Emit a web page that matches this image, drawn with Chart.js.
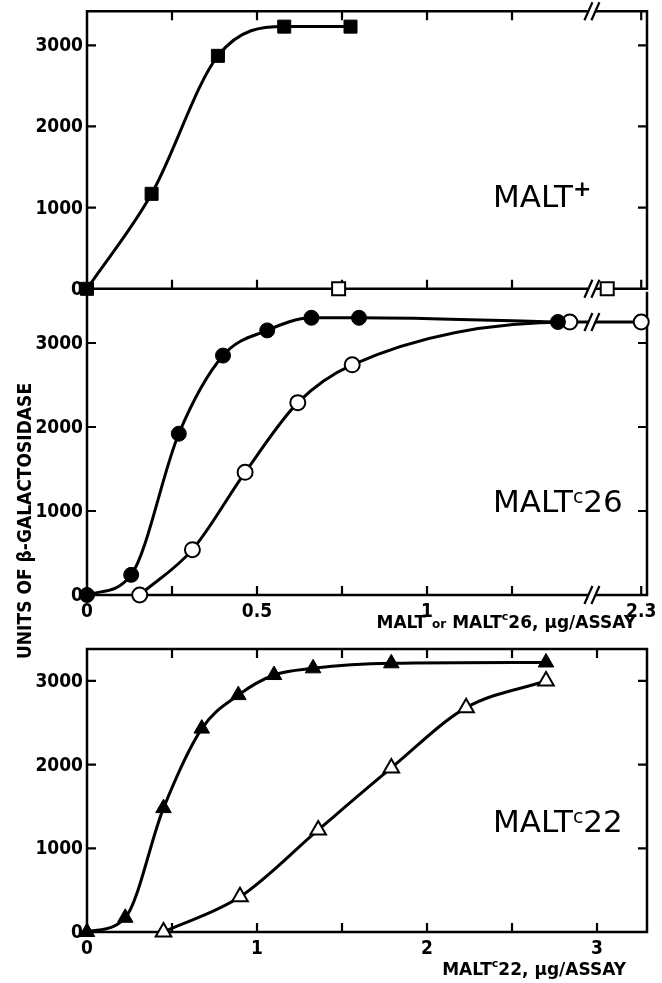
<!DOCTYPE html>
<html>
<head>
<meta charset="utf-8">
<script src="https://cdn.jsdelivr.net/npm/chart.js@4/dist/chart.umd.min.js"></script>
<style>
  html, body { margin: 0; padding: 0; background: #fff; }
  #wrap { position: relative; width: 662px; height: 983px; overflow: hidden; }
  #wrap canvas { position: absolute; left: 0; }
</style>
</head>
<body>
<div id="wrap">
  <canvas id="malt"></canvas>
  <canvas id="c26"></canvas>
  <canvas id="c22"></canvas>
</div>
<script>
// MALT+ panel (top)
const maltFilledX = [0, 0.19, 0.385, 0.58, 0.775];
const maltFilledY = [0, 1170, 2870, 3230, 3230];
const maltOpenX = [0.74, 2.2];
const maltOpenY = [0, 0];

// MALTc26 panel (middle)
const c26FilledX = [0, 0.13, 0.27, 0.40, 0.53, 0.66, 0.80, 1.385];
const c26FilledY = [0, 240, 1920, 2850, 3150, 3300, 3300, 3250];
const c26OpenX = [0.155, 0.31, 0.465, 0.62, 0.78, 1.42, 2.3];
const c26OpenY = [0, 540, 1460, 2290, 2740, 3250, 3250];

// MALTc22 panel (bottom)
const c22FilledX = [0, 0.225, 0.45, 0.675, 0.89, 1.1, 1.33, 1.79, 2.7];
const c22FilledY = [0, 170, 1480, 2430, 2830, 3070, 3150, 3210, 3220];
const c22OpenX = [0.45, 0.9, 1.36, 1.79, 2.23, 2.7];
const c22OpenY = [0, 420, 1220, 1960, 2680, 3000];

// ticks and labels
const yTicks = [0, 1000, 2000, 3000];
const doseTicks = [0.25, 0.5, 0.75, 1, 1.25, 2.3];
const doseLabels = [0, 0.5, 1, 2.3];
const c22Ticks = [0.5, 1, 1.5, 2, 2.5, 3];
const c22Labels = [0, 1, 2, 3];

// broken x axis of the top two panels: 2.3 sits right after the break
const BREAK_AT = 1.485;
function doseAxis(x) { return x >= 2 ? x - 0.67 : x; }
function plainAxis(x) { return x; }

const TICK = 9;
const NUM_FONT = 'bold 19px "DejaVu Sans Condensed", "DejaVu Sans"';
const BIG = '31px "DejaVu Sans"';
const TITLE = 'bold 17px "DejaVu Sans"';

function points(xs, ys, map) {
    return xs.map((x, i) => ({ x: map(x), y: ys[i] }));
}

function series(data, style, radius, filled, line) {
    return {
        data: data,
        showLine: line,
        borderColor: '#000',
        borderWidth: 3,
        cubicInterpolationMode: 'monotone',
        pointStyle: style,
        pointRadius: radius,
        pointHoverRadius: radius,
        pointBackgroundColor: filled ? '#000' : '#fff',
        pointBorderColor: '#000',
        pointBorderWidth: filled ? 1 : 2,
        clip: false
    };
}

// draws a row of text pieces (text, font, y offset), left or right aligned
function drawRuns(ctx, runs, x, y, align) {
    let w = 0;
    runs.forEach(r => { ctx.font = r[1]; w += ctx.measureText(r[0]).width; });
    let cx = align === 'right' ? x - w : x;
    ctx.textAlign = 'left';
    ctx.textBaseline = 'alphabetic';
    runs.forEach(r => {
        ctx.font = r[1];
        ctx.fillText(r[0], cx, y + (r[2] || 0));
        cx += ctx.measureText(r[0]).width;
    });
}

function breakMark(ctx, px, py) {
    ctx.save();
    ctx.fillStyle = '#fff';
    ctx.fillRect(px - 4, py - 3, 8, 6);
    ctx.strokeStyle = '#000';
    ctx.lineWidth = 2.2;
    ctx.beginPath();
    [-3.5, 3.5].forEach(dx => {
        ctx.moveTo(px + dx - 4, py + 9);
        ctx.lineTo(px + dx + 4, py - 9);
    });
    ctx.stroke();
    ctx.restore();
}

// frame, inward ticks, labels and break marks for one panel
function makeFrame(cfg) {
    return {
        id: 'frame',
        beforeDatasetsDraw(chart) {
            const { ctx, chartArea: a, scales: { x, y } } = chart;
            ctx.save();
            ctx.strokeStyle = '#000';
            ctx.lineWidth = 2.5;
            ctx.lineCap = 'square';
            ctx.beginPath();
            ctx.moveTo(a.left, a.top);
            ctx.lineTo(a.left, a.bottom);
            ctx.lineTo(a.right, a.bottom);
            ctx.lineTo(a.right, a.top);
            if (cfg.topLine) ctx.lineTo(a.left, a.top);
            ctx.stroke();

            ctx.lineWidth = 2.2;
            ctx.lineCap = 'butt';
            ctx.beginPath();
            yTicks.forEach(v => {
                if (v === 0) return;
                const py = y.getPixelForValue(v);
                ctx.moveTo(a.left, py); ctx.lineTo(a.left + TICK, py);
                ctx.moveTo(a.right, py); ctx.lineTo(a.right - TICK, py);
            });
            (cfg.topTicks || []).forEach(v => {
                const px = x.getPixelForValue(cfg.map(v));
                ctx.moveTo(px, a.top); ctx.lineTo(px, a.top + TICK);
            });
            (cfg.bottomTicks || []).forEach(v => {
                const px = x.getPixelForValue(cfg.map(v));
                ctx.moveTo(px, a.bottom); ctx.lineTo(px, a.bottom - TICK);
            });
            ctx.stroke();
            ctx.restore();
        },
        afterDatasetsDraw(chart) {
            const { ctx, chartArea: a, scales: { x, y } } = chart;
            const bx = x.getPixelForValue(BREAK_AT);
            (cfg.breaks || []).forEach(v => breakMark(ctx, bx, y.getPixelForValue(v)));
            if (cfg.breakTop) breakMark(ctx, bx, a.top);

            ctx.save();
            ctx.fillStyle = '#000';
            // y tick labels
            ctx.font = NUM_FONT;
            ctx.textAlign = 'right';
            ctx.textBaseline = 'middle';
            yTicks.forEach(v => ctx.fillText(String(v), a.left - 4, y.getPixelForValue(v) + 1));
            // x tick labels
            ctx.textAlign = 'center';
            ctx.textBaseline = 'top';
            (cfg.xLabels || []).forEach(v => ctx.fillText(String(v), x.getPixelForValue(cfg.map(v)), a.bottom + 8));
            // panel name
            drawRuns(ctx, cfg.name, a.left + 406, a.bottom - cfg.nameLift);
            // x axis title
            if (cfg.xTitle) drawRuns(ctx, cfg.xTitle, a.right - cfg.xTitleRight, a.bottom + cfg.xTitleDrop, 'right');
            // shared y axis title
            if (cfg.yTitle) {
                ctx.translate(26, a.bottom - 74);
                ctx.rotate(-Math.PI / 2);
                ctx.font = 'bold 19px "DejaVu Sans Condensed", "DejaVu Sans"';
                ctx.textAlign = 'center';
                ctx.textBaseline = 'middle';
                ctx.fillText(cfg.yTitle, 0, 0);
            }
            ctx.restore();
        }
    };
}

function panel(id, top, height, pad, xMax, yMax, datasets, cfg) {
    const canvas = document.getElementById(id);
    canvas.width = 662;
    canvas.height = height;
    canvas.style.top = top + 'px';
    return new Chart(canvas.getContext('2d'), {
        type: 'line',
        data: { datasets: datasets },
        options: {
            responsive: false,
            animation: false,
            devicePixelRatio: 1,
            layout: { padding: { left: 87, right: 15, top: pad[0], bottom: pad[1] } },
            plugins: { legend: { display: false }, tooltip: { enabled: false } },
            scales: {
                x: { type: 'linear', min: 0, max: xMax, display: false },
                y: { type: 'linear', min: 0, max: yMax, display: false }
            }
        },
        plugins: [makeFrame(cfg)]
    });
}

document.addEventListener('DOMContentLoaded', function() {
    // top: MALT+
    panel('malt', 0, 300, [7, 7], 1.647, 3420, [
        series(points(maltFilledX, maltFilledY, doseAxis), 'rect', 9.2, true, true),
        series(points(maltOpenX, maltOpenY, doseAxis), 'rect', 9.2, false, false)
    ], {
        map: doseAxis, topLine: true, topTicks: doseTicks, bottomTicks: doseTicks,
        breaks: [0], breakTop: true, nameLift: 82,
        name: [['MALT', BIG], ['+', 'bold 22px "DejaVu Sans"', -11]]
    });

    // middle: MALTc26
    panel('c26', 280, 400, [13, 85], 1.647, 3595, [
        series(points(c26FilledX, c26FilledY, doseAxis), 'circle', 7.5, true, true),
        series(points(c26OpenX, c26OpenY, doseAxis), 'circle', 7.5, false, true)
    ], {
        map: doseAxis, topLine: false, bottomTicks: doseTicks, xLabels: doseLabels,
        breaks: [0, c26OpenY[c26OpenY.length - 1]], nameLift: 83,
        name: [['MALT', BIG], ['c', '19px "DejaVu Sans"', -9], ['26', BIG]],
        xTitle: [['MALT', TITLE], [' ', TITLE], ['or', 'bold 12px "DejaVu Sans"'], [' ', TITLE],
                 ['MALT', TITLE], ['c', 'bold 11px "DejaVu Sans"', -8], ['26, μg/ASSAY', TITLE]],
        xTitleRight: 11, xTitleDrop: 33,
        yTitle: 'UNITS OF β-GALACTOSIDASE'
    });

    // bottom: MALTc22
    panel('c22', 630, 353, [19, 51], 3.294, 3381, [
        series(points(c22FilledX, c22FilledY, plainAxis), 'triangle', 9, true, true),
        series(points(c22OpenX, c22OpenY, plainAxis), 'triangle', 9, false, true)
    ], {
        map: plainAxis, topLine: true, topTicks: c22Ticks, bottomTicks: c22Ticks, xLabels: c22Labels,
        nameLift: 100,
        name: [['MALT', BIG], ['c', '19px "DejaVu Sans"', -9], ['22', BIG]],
        xTitle: [['MALT', TITLE], ['c', 'bold 11px "DejaVu Sans"', -8], ['22, μg/ASSAY', TITLE]],
        xTitleRight: 21, xTitleDrop: 43
    });
});
</script>
</body>
</html>
